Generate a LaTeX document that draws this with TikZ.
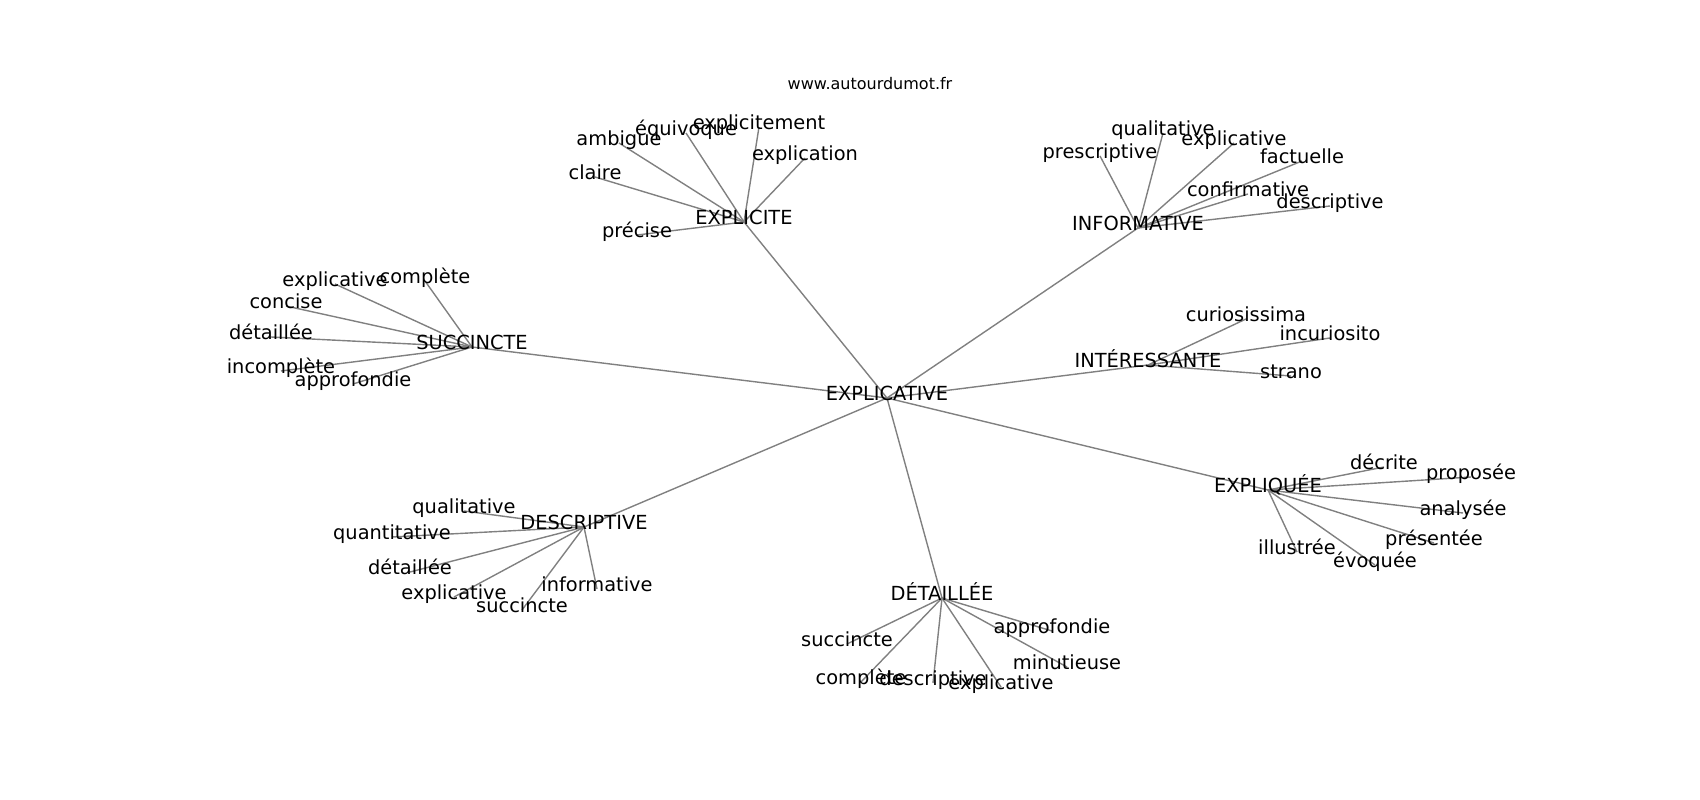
\documentclass[tikz,border=0pt]{standalone}
\usepackage{fontspec}
\setmainfont{DejaVu Sans}
\usetikzlibrary{backgrounds}
\begin{document}
\begin{tikzpicture}[x=1pt,y=-1pt,
  lab/.style={font=\fontsize{19.4}{23}\selectfont, inner sep=0pt, text height=0.76em, text depth=0.24em, anchor=center},
  ttl/.style={font=\fontsize{16}{19}\selectfont, inner sep=0pt, anchor=center},
  edge/.style={draw=gray, line width=1.4pt}]
\useasboundingbox (0,0) rectangle (1700,800);
\node[ttl] (title) at (870,84) {www.autourdumot.fr};
\begin{scope}[shift={(0,4)}]
% hubs
\node[lab] (c) at (887,394) {EXPLICATIVE};
\node[lab] (h1) at (744,218) {EXPLICITE};
\node[lab] (h2) at (1138,224) {INFORMATIVE};
\node[lab] (h3) at (472,343) {SUCCINCTE};
\node[lab] (h4) at (1148,361) {INTÉRESSANTE};
\node[lab] (h5) at (1268,486) {EXPLIQUÉE};
\node[lab] (h6) at (584,523) {DESCRIPTIVE};
\node[lab] (h7) at (942,594) {DÉTAILLÉE};
% EXPLICITE leaves
\node[lab] (a1) at (637,231) {précise};
\node[lab] (a2) at (595,173) {claire};
\node[lab] (a3) at (619,139) {ambigue};
\node[lab] (a4) at (686,129) {équivoque};
\node[lab] (a5) at (759,123) {explicitement};
\node[lab] (a6) at (805,154) {explication};
% INFORMATIVE leaves
\node[lab] (b1) at (1100,152) {prescriptive};
\node[lab] (b2) at (1163,129) {qualitative};
\node[lab] (b3) at (1234,139) {explicative};
\node[lab] (b4) at (1302,157) {factuelle};
\node[lab] (b5) at (1248,190) {confirmative};
\node[lab] (b6) at (1330,202) {descriptive};
% SUCCINCTE leaves
\node[lab] (s1) at (335,280) {explicative};
\node[lab] (s2) at (425,277) {complète};
\node[lab] (s3) at (286,302) {concise};
\node[lab] (s4) at (271,333) {détaillée};
\node[lab] (s5) at (281,367) {incomplète};
\node[lab] (s6) at (353,380) {approfondie};
% INTERESSANTE leaves
\node[lab] (i1) at (1246,315) {curiosissima};
\node[lab] (i2) at (1330,334) {incuriosito};
\node[lab] (i3) at (1291,372) {strano};
% EXPLIQUEE leaves
\node[lab] (e1) at (1384,463) {décrite};
\node[lab] (e2) at (1471,473) {proposée};
\node[lab] (e3) at (1463,509) {analysée};
\node[lab] (e4) at (1434,539) {présentée};
\node[lab] (e5) at (1375,561) {évoquée};
\node[lab] (e6) at (1297,548) {illustrée};
% DESCRIPTIVE leaves
\node[lab] (d1) at (464,507) {qualitative};
\node[lab] (d2) at (392,533) {quantitative};
\node[lab] (d3) at (410,568) {détaillée};
\node[lab] (d4) at (454,593) {explicative};
\node[lab] (d5) at (522,606) {succincte};
\node[lab] (d6) at (597,585) {informative};
% DETAILLEE leaves
\node[lab] (t1) at (847,640) {succincte};
\node[lab] (t2) at (861,678) {complète};
\node[lab] (t3) at (933,679) {descriptive};
\node[lab] (t4) at (1001,683) {explicative};
\node[lab] (t5) at (1052,627) {approfondie};
\node[lab] (t6) at (1067,663) {minutieuse};
\end{scope}
\begin{pgfonlayer}{background}
\foreach \h in {h1,h2,h3,h4,h5,h6,h7}
  \draw[edge] (c.center) -- (\h.center);
\foreach \l in {a1,a2,a3,a4,a5,a6}
  \draw[edge] (h1.center) -- (\l.center);
\foreach \l in {b1,b2,b3,b4,b5,b6}
  \draw[edge] (h2.center) -- (\l.center);
\foreach \l in {s1,s2,s3,s4,s5,s6}
  \draw[edge] (h3.center) -- (\l.center);
\foreach \l in {i1,i2,i3}
  \draw[edge] (h4.center) -- (\l.center);
\foreach \l in {e1,e2,e3,e4,e5,e6}
  \draw[edge] (h5.center) -- (\l.center);
\foreach \l in {d1,d2,d3,d4,d5,d6}
  \draw[edge] (h6.center) -- (\l.center);
\foreach \l in {t1,t2,t3,t4,t5,t6}
  \draw[edge] (h7.center) -- (\l.center);
\end{pgfonlayer}
\end{tikzpicture}
\end{document}
